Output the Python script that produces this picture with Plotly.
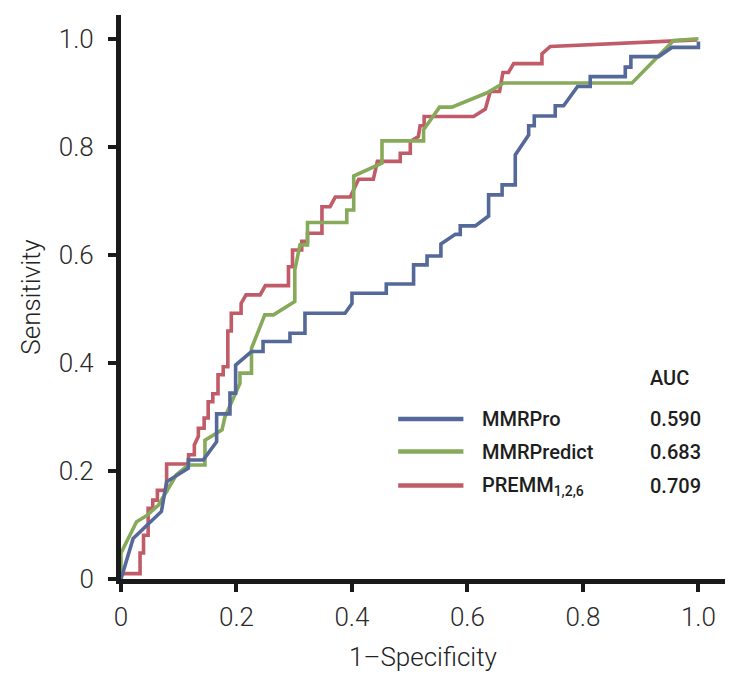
import plotly.graph_objects as go

# ---- data ----
fpr_mmrpro = [0, 0.021, 0.070, 0.079, 0.1165, 0.1165, 0.1425, 0.1656, 0.1656, 0.1887, 0.1887,
              0.1985, 0.1985, 0.226, 0.246, 0.246, 0.2926, 0.2926, 0.3186, 0.3186, 0.388,
              0.400, 0.400, 0.4594, 0.4594, 0.5067, 0.5067, 0.530, 0.530, 0.554, 0.554,
              0.579, 0.5875, 0.5875, 0.6135, 0.6366, 0.6366, 0.660, 0.660, 0.6828, 0.6828,
              0.706, 0.706, 0.7157, 0.7157, 0.752, 0.752, 0.7665, 0.7907, 0.8126, 0.8126,
              0.8733, 0.8733, 0.883, 0.883, 0.931, 0.954, 1.0, 1.0]
tpr_mmrpro = [0, 0.075, 0.125, 0.180, 0.205, 0.2204, 0.2204, 0.254, 0.3056, 0.3056, 0.344,
              0.344, 0.396, 0.421, 0.421, 0.4395, 0.4395, 0.455, 0.455, 0.492, 0.492,
              0.510, 0.529, 0.529, 0.546, 0.546, 0.5815, 0.5815, 0.598, 0.598, 0.620,
              0.638, 0.638, 0.6537, 0.6537, 0.672, 0.711, 0.711, 0.7296, 0.7296, 0.785,
              0.822, 0.839, 0.839, 0.857, 0.857, 0.876, 0.876, 0.9117, 0.9117, 0.930,
              0.930, 0.9476, 0.9476, 0.967, 0.967, 0.984, 0.984, 0.995]

fpr_mmrpredict = [0, 0, 0.027, 0.044, 0.065, 0.096, 0.1165, 0.1454, 0.1454, 0.175, 0.180,
                  0.198, 0.206, 0.206, 0.226, 0.226, 0.249, 0.264, 0.301, 0.301, 0.310,
                  0.323, 0.323, 0.391, 0.391, 0.403, 0.403, 0.452, 0.452, 0.524, 0.524,
                  0.5517, 0.573, 0.634, 0.6625, 0.885, 0.957, 1.0]
tpr_mmrpredict = [0, 0.048, 0.106, 0.117, 0.137, 0.193, 0.211, 0.211, 0.257, 0.276, 0.300,
                  0.341, 0.362, 0.381, 0.381, 0.427, 0.489, 0.489, 0.5135, 0.572, 0.6185,
                  0.6185, 0.660, 0.660, 0.683, 0.683, 0.746, 0.770, 0.811, 0.811, 0.8315,
                  0.8735, 0.8735, 0.900, 0.918, 0.918, 0.997, 1.0]

fpr_premm = [0, 0, 0.033, 0.033, 0.039, 0.039, 0.047, 0.047, 0.055, 0.055, 0.063, 0.063,
             0.079, 0.079, 0.117, 0.117, 0.127, 0.127, 0.134, 0.134, 0.144, 0.144, 0.151,
             0.151, 0.159, 0.159, 0.168, 0.168, 0.177, 0.177, 0.185, 0.185, 0.191, 0.191,
             0.208, 0.208, 0.2165, 0.241, 0.250, 0.290, 0.290, 0.297, 0.297, 0.313, 0.313,
             0.323, 0.323, 0.348, 0.348, 0.362, 0.371, 0.397, 0.4115, 0.437, 0.444, 0.4836,
             0.4836, 0.501, 0.501, 0.515, 0.518, 0.525, 0.525, 0.6106, 0.631, 0.6395,
             0.6556, 0.6614, 0.671, 0.680, 0.729, 0.729, 0.7434, 0.9974]
tpr_premm = [0, 0.010, 0.010, 0.048, 0.048, 0.081, 0.081, 0.131, 0.131, 0.146, 0.146, 0.164,
             0.164, 0.213, 0.213, 0.230, 0.230, 0.248, 0.264, 0.279, 0.279, 0.298, 0.298,
             0.328, 0.328, 0.343, 0.343, 0.378, 0.378, 0.393, 0.393, 0.459, 0.459, 0.492,
             0.492, 0.510, 0.526, 0.526, 0.543, 0.543, 0.578, 0.578, 0.609, 0.609, 0.625,
             0.625, 0.640, 0.640, 0.689, 0.689, 0.707, 0.707, 0.740, 0.740, 0.773, 0.773,
             0.788, 0.788, 0.810, 0.819, 0.839, 0.839, 0.856, 0.856, 0.870, 0.9025,
             0.9025, 0.9376, 0.9376, 0.954, 0.954, 0.972, 0.9858, 0.998]

model_names = ["MMRPro", "MMRPredict", "PREMM<sub>1,2,6</sub>"]
auc_values = ["0.590", "0.683", "0.709"]
tick_vals = [0, 0.2, 0.4, 0.6, 0.8, 1.0]
tick_text = ["0", "0.2", "0.4", "0.6", "0.8", "1.0"]

colors = ["#55689a", "#86aa59", "#c05b67"]

series = [(fpr_mmrpro, tpr_mmrpro), (fpr_mmrpredict, tpr_mmrpredict), (fpr_premm, tpr_premm)]

fig = go.Figure()
# draw red first, blue last (on top)
for i in [2, 1, 0]:
    fx, fy = series[i]
    fig.add_trace(go.Scatter(x=fx, y=fy, mode="lines", name=model_names[i],
                             line=dict(color=colors[i], width=3.6), showlegend=False,
                             hoverinfo="skip"))

tick_font = dict(family="Roboto, Liberation Sans, sans-serif", weight=300,
                 size=26, color="#2a2a2a")
title_font = dict(family="Roboto, Liberation Sans, sans-serif", weight=300,
                  size=26, color="#222222")

axis_common = dict(showline=True, linewidth=5, linecolor="#1a1a1a", ticks="outside",
                   ticklen=8, tickwidth=4, tickcolor="#1a1a1a", showgrid=False,
                   zeroline=False, tickvals=tick_vals, ticktext=tick_text,
                   tickfont=tick_font)

fig.update_xaxes(range=[0, 1.046], title=dict(text="1\u2013Specificity", font=title_font, standoff=18),
                 ticklabelstandoff=3, **axis_common)
fig.update_yaxes(range=[0, 1.044], title=dict(text="Sensitivity", font=title_font, standoff=12),
                 ticklabelstandoff=9, **axis_common)

# legend drawn manually (swatch + name + AUC column)
legend_font = dict(family="Roboto, Liberation Sans, sans-serif", weight=500, size=20,
                   color="#1e1e1e")
row_y = [0.296, 0.236, 0.173]
for i in range(3):
    fig.add_shape(type="line", xref="x", yref="y", x0=0.48, x1=0.593, y0=row_y[i], y1=row_y[i],
                  line=dict(color=colors[i], width=4.5))
    fig.add_annotation(x=0.622, y=row_y[i], xref="x", yref="y", text=model_names[i],
                       showarrow=False, xanchor="left", yanchor="middle", font=legend_font)
    fig.add_annotation(x=0.913, y=row_y[i], xref="x", yref="y", text=auc_values[i],
                       showarrow=False, xanchor="left", yanchor="middle", font=legend_font)
fig.add_annotation(x=0.913, y=0.3715, xref="x", yref="y", text="AUC",
                   showarrow=False, xanchor="left", yanchor="middle", font=legend_font)

# page body has an 8px margin, so the figure is offset by (8, 8)
fig.update_layout(width=733, height=683, margin=dict(l=113, r=16, t=7, b=112),
                  paper_bgcolor="white", plot_bgcolor="white", showlegend=False)

fig.write_html("out.html")
